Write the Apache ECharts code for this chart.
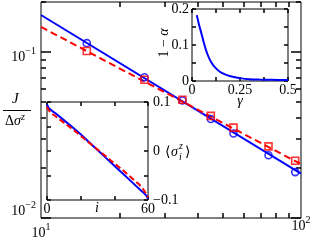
<!DOCTYPE html>
<html><head><meta charset="utf-8">
<script src="https://cdn.jsdelivr.net/npm/echarts@6/dist/echarts.min.js"></script>
<style>html,body{margin:0;padding:0;background:#fff}#c{width:315px;height:244px}</style>
</head><body><div id="c"></div>
<script>
// ---- main panel data ----
const sizeN = [15, 25, 35, 45, 55, 75, 95];            // N - 5
const jBlue = [0.113, 0.0705, 0.051, 0.0395, 0.0323, 0.0239, 0.0189];
const jRed  = [0.1014, 0.068, 0.0515, 0.0412, 0.035, 0.027, 0.0221];
const fitX = [10, 100];
const fitBlue = [0.167, 0.0185];
const fitRed  = [0.1415, 0.0211];
const mainXTicks = [20, 30, 40, 50, 60, 70, 80, 90];
const mainXLabelLow = [10];
const mainXLabelHigh = [100];
const mainYMinor = [0.02, 0.03, 0.04, 0.05, 0.06, 0.07, 0.08, 0.09, 0.2];
const mainYMajor = [0.01, 0.1];
const mainYLabelHigh = [0.1];
const mainYLabelLow = [0.01];
// ---- inset 1 (top right) ----
const gammaVals = [0.025, 0.035, 0.05, 0.065, 0.08, 0.1, 0.125, 0.15, 0.2, 0.25, 0.3, 0.35, 0.4, 0.45, 0.5];
const oneMinusAlpha = [0.183, 0.16, 0.13, 0.1, 0.075, 0.052, 0.035, 0.024, 0.013, 0.008, 0.005, 0.004, 0.0035, 0.003, 0.003];
const in1XTicks = [0, 0.125, 0.25, 0.375, 0.5];
const in1XLabels = [0, 0.25, 0.5];
const in1YTicks = [0, 0.05, 0.1, 0.15, 0.2];
const in1YLabels = [0, 0.1, 0.2];
// ---- inset 2 (bottom left) ----
const siteI = [0, 1, 3, 5, 10, 15, 20, 25, 30, 35, 40, 45, 50, 55, 57, 59, 60];
const sigmaBlue = [0.095, 0.088, 0.082, 0.077, 0.063, 0.049, 0.034, 0.018, 0.002, -0.014, -0.030, -0.046, -0.062, -0.078, -0.084, -0.091, -0.097];
const sigmaRed  = [0.090, 0.083, 0.076, 0.071, 0.058, 0.045, 0.031, 0.017, 0.003, -0.011, -0.025, -0.039, -0.054, -0.069, -0.077, -0.088, -0.095];
const in2XTicks = [0, 20, 40, 60];
const in2XLabels = [0, 60];
const in2YTicks = [-0.1, -0.05, 0, 0.05, 0.1];
const in2YLabels = [-0.1, 0, 0.1];

const FF = 'Liberation Serif';
const zip = (a, b) => a.map((v, k) => [v, b[k]]);
const fmtNum = v => { const r = Math.round(v * 1000) / 1000; return r < 0 ? '\u2212' + (-r) : String(r); };
const richPow = {
  b: { fontFamily: FF, fontSize: 14, color: '#000', lineHeight: 18, verticalAlign: 'bottom' },
  s: { fontFamily: FF, fontSize: 10, color: '#000', lineHeight: 6, verticalAlign: 'top' }
};
const noLine = { show: false, onZero: false };
function tick(vals, len) { return { show: true, inside: true, length: len, customValues: vals, lineStyle: { color: '#000', width: 1.5 } }; }
const noTick = { show: false };
const noLabel = { show: false };
function numLabel(vals, margin) {
  return { show: true, customValues: vals, margin: margin, fontFamily: FF, fontSize: 14, color: '#000', formatter: fmtNum };
}
const expLabel = v => '{b|10}{s|' + String(Math.round(Math.log10(v))).replace('-', '\u2212') + '}';
function logX(pos, extra) { return Object.assign({ gridIndex: 0, type: 'log', min: 10, max: 100, position: pos, axisLine: noLine, splitLine: { show: false } }, extra); }
function logY(pos, extra) { return Object.assign({ gridIndex: 0, type: 'log', min: 0.01, max: 0.2, position: pos, axisLine: noLine, splitLine: { show: false } }, extra); }
function valAx(grid, pos, min, max, extra) { return Object.assign({ gridIndex: grid, type: 'value', min: min, max: max, position: pos, axisLine: noLine, splitLine: { show: false } }, extra); }
const gridBase = { show: true, borderColor: '#000', borderWidth: 1, containLabel: false, outerBoundsMode: 'none' };

const option = {
  animation: false,
  grid: [
    Object.assign({ left: 41, top: 2, width: 260, height: 216 }, gridBase),
    Object.assign({ left: 192, top: 9, width: 96, height: 72, backgroundColor: '#fff' }, gridBase),
    Object.assign({ left: 47, top: 102, width: 101, height: 98, backgroundColor: '#fff' }, gridBase)
  ],
  xAxis: [
    logX('bottom', { axisTick: tick(mainXTicks, 5), axisLabel: noLabel }),
    logX('top', { axisTick: tick(mainXTicks, 5), axisLabel: noLabel }),
    logX('bottom', { axisTick: noTick,
      axisLabel: { show: true, customValues: mainXLabelLow, margin: 4, rich: richPow, formatter: expLabel },
      name: '{i|N} \u2212 5', nameLocation: 'middle', nameGap: 12,
      nameTextStyle: { fontFamily: FF, fontSize: 14, color: '#000', rich: { i: { fontFamily: FF, fontSize: 14, fontStyle: 'italic', color: '#000' } } } }),
    logX('bottom', { axisTick: noTick,
      axisLabel: { show: true, customValues: mainXLabelHigh, margin: -3, rich: richPow, formatter: expLabel } }),
    valAx(1, 'bottom', 0, 0.5, { axisTick: tick(in1XTicks, 4), axisLabel: noLabel }),
    valAx(1, 'top', 0, 0.5, { axisTick: tick(in1XTicks, 4), axisLabel: noLabel }),
    valAx(1, 'bottom', 0, 0.5, { axisTick: noTick, axisLabel: numLabel(in1XLabels, 2) }),
    valAx(2, 'bottom', 0, 60, { axisTick: tick(in2XTicks, 4), axisLabel: noLabel }),
    valAx(2, 'top', 0, 60, { axisTick: tick(in2XTicks, 4), axisLabel: noLabel }),
    valAx(2, 'bottom', 0, 60, { axisTick: noTick, axisLabel: numLabel(in2XLabels, 2) })
  ],
  yAxis: [
    logY('left', { axisTick: tick(mainYMinor, 5), axisLabel: noLabel }),
    logY('left', { axisTick: tick(mainYMajor, 10), axisLabel: noLabel }),
    logY('right', { axisTick: tick(mainYMinor, 5), axisLabel: noLabel }),
    logY('right', { axisTick: tick(mainYMajor, 10), axisLabel: noLabel }),
    logY('left', { axisTick: noTick,
      axisLabel: { show: true, customValues: mainYLabelHigh, margin: 5, padding: [6, 0, 0, 0], rich: richPow, formatter: expLabel } }),
    logY('left', { axisTick: noTick,
      axisLabel: { show: true, customValues: mainYLabelLow, margin: 5, verticalAlign: 'bottom', rich: richPow, formatter: expLabel } }),
    valAx(1, 'left', 0, 0.2, { axisTick: tick(in1YTicks, 4), axisLabel: noLabel }),
    valAx(1, 'right', 0, 0.2, { axisTick: tick(in1YTicks, 4), axisLabel: noLabel }),
    valAx(1, 'left', 0, 0.2, { axisTick: noTick, axisLabel: numLabel(in1YLabels, 3) }),
    valAx(2, 'left', -0.1, 0.1, { axisTick: tick(in2YTicks, 4), axisLabel: noLabel }),
    valAx(2, 'right', -0.1, 0.1, { axisTick: tick(in2YTicks, 4), axisLabel: noLabel }),
    valAx(2, 'right', -0.1, 0.1, { axisTick: noTick, axisLabel: numLabel(in2YLabels, 5) })
  ],
  series: [
    { type: 'line', xAxisIndex: 0, yAxisIndex: 0, data: zip(fitX, fitBlue), symbol: 'none', lineStyle: { color: '#0000ff', width: 2 }, z: 3 },
    { type: 'line', xAxisIndex: 0, yAxisIndex: 0, data: zip(fitX, fitRed), symbol: 'none', lineStyle: { color: '#ff0000', width: 2, type: [7, 4] }, z: 3 },
    { type: 'scatter', xAxisIndex: 0, yAxisIndex: 0, data: zip(sizeN, jBlue), symbol: 'circle', symbolSize: 7,
      itemStyle: { color: 'rgba(255,255,255,0)', borderColor: '#0000ff', borderWidth: 1.6 }, z: 4 },
    { type: 'scatter', xAxisIndex: 0, yAxisIndex: 0, data: zip(sizeN, jRed), symbol: 'rect', symbolSize: 7,
      itemStyle: { color: 'rgba(255,255,255,0)', borderColor: '#ff0000', borderWidth: 1.6 }, z: 4 },
    { type: 'line', xAxisIndex: 4, yAxisIndex: 6, data: zip(gammaVals, oneMinusAlpha), symbol: 'none', smooth: 0.3,
      lineStyle: { color: '#0000ff', width: 2 }, z: 5 },
    { type: 'line', xAxisIndex: 7, yAxisIndex: 9, data: zip(siteI, sigmaBlue), symbol: 'none',
      lineStyle: { color: '#0000ff', width: 2 }, z: 5 },
    { type: 'line', xAxisIndex: 7, yAxisIndex: 9, data: zip(siteI, sigmaRed), symbol: 'none',
      lineStyle: { color: '#ff0000', width: 2, type: [6, 3] }, z: 6 }
  ],
  graphic: [
    { type: 'text', left: 12, top: 92, style: { text: 'J', font: 'italic 15px "Liberation Serif"', fill: '#000' } },
    { type: 'line', shape: { x1: 3, y1: 110.5, x2: 31, y2: 110.5 }, style: { stroke: '#000', lineWidth: 1 } },
    { type: 'text', left: 5, top: 112, style: { text: '{u|\u0394}{i|\u03c3}{s|z}', rich: {
        u: { fontFamily: FF, fontSize: 14, color: '#000', lineHeight: 16, verticalAlign: 'bottom' },
        i: { fontFamily: FF, fontSize: 14, fontStyle: 'italic', color: '#000', lineHeight: 16, verticalAlign: 'bottom' },
        s: { fontFamily: FF, fontSize: 10, fontStyle: 'italic', color: '#000', lineHeight: 6, verticalAlign: 'top' } } } },
    { type: 'text', x: 164, y: 43, rotation: Math.PI / 2, style: { text: '1 \u2212 {i|\u03b1}', align: 'center', verticalAlign: 'middle',
        fontFamily: FF, fontSize: 14, fill: '#000', rich: { i: { fontFamily: FF, fontSize: 14, fontStyle: 'italic', color: '#000' } } } },
    { type: 'text', x: 240, y: 101, style: { text: '\u03b3', align: 'center', verticalAlign: 'middle', font: 'italic 14px "Liberation Serif"', fill: '#000' } },
    { type: 'text', x: 97, y: 208, style: { text: 'i', align: 'center', verticalAlign: 'middle', font: 'italic 14px "Liberation Serif"', fill: '#000' } },
    { type: 'text', x: 165, y: 152, style: { text: '\u27e8', align: 'left', verticalAlign: 'middle', font: '14px "DejaVu Serif"', fill: '#000' } },
    { type: 'text', x: 171, y: 152, style: { text: '\u03c3', align: 'left', verticalAlign: 'middle', font: 'italic 14px "Liberation Serif"', fill: '#000' } },
    { type: 'text', x: 179, y: 146, style: { text: 'z', align: 'left', verticalAlign: 'middle', font: 'italic 10px "Liberation Serif"', fill: '#000' } },
    { type: 'text', x: 179, y: 157, style: { text: 'i', align: 'left', verticalAlign: 'middle', font: 'italic 10px "Liberation Serif"', fill: '#000' } },
    { type: 'text', x: 185, y: 152, style: { text: '\u27e9', align: 'left', verticalAlign: 'middle', font: '14px "DejaVu Serif"', fill: '#000' } }
  ]
};
const chart = echarts.init(document.getElementById('c'), null, { renderer: 'canvas' });
chart.setOption(option);
</script>
</body></html>
